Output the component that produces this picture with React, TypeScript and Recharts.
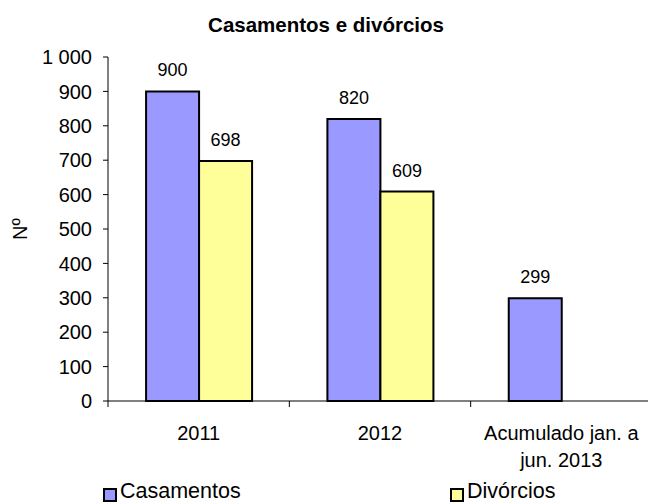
import { BarChart, Bar, XAxis, YAxis, Legend, LabelList } from "recharts"

const categories = ["2011", "2012", "Acumulado jan. a\njun. 2013"]
const casamentos = [900, 820, 299]
const divorcios: (number | null)[] = [698, 609, null]
const yTicks = [0, 100, 200, 300, 400, 500, 600, 700, 800, 900, 1000]

const seriesInfo = [
  { key: "casamentos", name: "Casamentos", color: "#9999ff" },
  { key: "divorcios", name: "Divórcios", color: "#ffff99" },
]

const data = categories.map((name, i) => ({
  name,
  casamentos: casamentos[i],
  divorcios: divorcios[i],
}))

const FONT = "'Liberation Sans', Arial, sans-serif"

function formatY(v: number) {
  const s = String(v)
  return s.length > 3 ? s.slice(0, s.length - 3) + " " + s.slice(-3) : s
}

function CategoryTick(props: any) {
  const { x, y, payload, width, visibleTicksCount } = props
  const band = width && visibleTicksCount ? width / visibleTicksCount : 181.3
  const lines = String(payload.value).split("\n")
  const left = x - band / 2
  return (
    <g>
      <line x1={left} x2={left} y1={y - 6} y2={y} stroke="#000" strokeWidth={1} />
      <text x={x} y={y + 33} textAnchor="middle" fontSize={20} fontFamily={FONT} fill="#000">
        {lines.map((l, i) => (
          <tspan key={i} x={x} dy={i === 0 ? 0 : 27}>
            {l}
          </tspan>
        ))}
      </text>
    </g>
  )
}

function LegendContent() {
  return (
    <div style={{ position: "relative", height: 22, fontFamily: FONT, fontSize: 21.5, color: "#000" }}>
      {seriesInfo.map((s, i) => (
        <div key={s.key} style={{ position: "absolute", left: i === 0 ? 103 : 450, top: 0 }}>
          <div
            style={{
              position: "absolute",
              left: 0,
              top: 6,
              width: 10,
              height: 10,
              background: s.color,
              border: "2px solid #000",
            }}
          />
          <div style={{ position: "absolute", left: 17, top: -2, lineHeight: "22px", whiteSpace: "nowrap" }}>
            {s.name}
          </div>
        </div>
      ))}
    </div>
  )
}

export default function App() {
  return (
    <div
      style={{
        position: "absolute",
        left: 0,
        top: 0,
        width: 648,
        height: 504,
        overflow: "hidden",
        background: "#fff",
        fontFamily: FONT,
      }}
    >
      <div
        style={{
          position: "absolute",
          left: 0,
          top: 13,
          width: 652,
          textAlign: "center",
          fontWeight: "bold",
          fontSize: 20.5,
          lineHeight: "24px",
          zIndex: 2,
        }}
      >
        Casamentos e divórcios
      </div>
      <BarChart
        width={652}
        height={504}
        data={data}
        margin={{ top: 57, right: 0, bottom: 0, left: 0 }}
        barCategoryGap="21%"
        barGap={0}
      >
        <YAxis
          domain={[0, 1000]}
          ticks={yTicks}
          interval={0}
          width={108}
          tickSize={5}
          tickMargin={11}
          tickFormatter={formatY}
          axisLine={{ stroke: "#000" }}
          tickLine={{ stroke: "#000" }}
          tick={{ fill: "#000", fontSize: 20, fontFamily: FONT }}
          label={{
            content: ({ viewBox }: any) => {
              const cx = viewBox.x + 20
              const cy = viewBox.y + viewBox.height / 2
              return (
                <text
                  x={cx}
                  y={cy}
                  transform={`rotate(-90 ${cx} ${cy})`}
                  textAnchor="middle"
                  dominantBaseline="central"
                  fontSize={20}
                  fontFamily={FONT}
                  fill="#000"
                >
                  Nº
                </text>
              )
            },
          }}
        />
        <XAxis
          dataKey="name"
          height={81}
          interval={0}
          tickSize={6}
          tickMargin={0}
          tickLine={false}
          axisLine={{ stroke: "#000" }}
          tick={<CategoryTick />}
        />
        <Legend verticalAlign="bottom" content={<LegendContent />} wrapperStyle={{ left: 0, width: 652 }} />
        {seriesInfo.map((s) => (
          <Bar
            key={s.key}
            dataKey={s.key}
            name={s.name}
            fill={s.color}
            stroke="#000"
            strokeWidth={2}
            isAnimationActive={false}
          >
            <LabelList
              dataKey={s.key}
              position="top"
              offset={15}
              fill="#000"
              fontSize={18}
              fontFamily={FONT}
            />
          </Bar>
        ))}
      </BarChart>
    </div>
  )
}
